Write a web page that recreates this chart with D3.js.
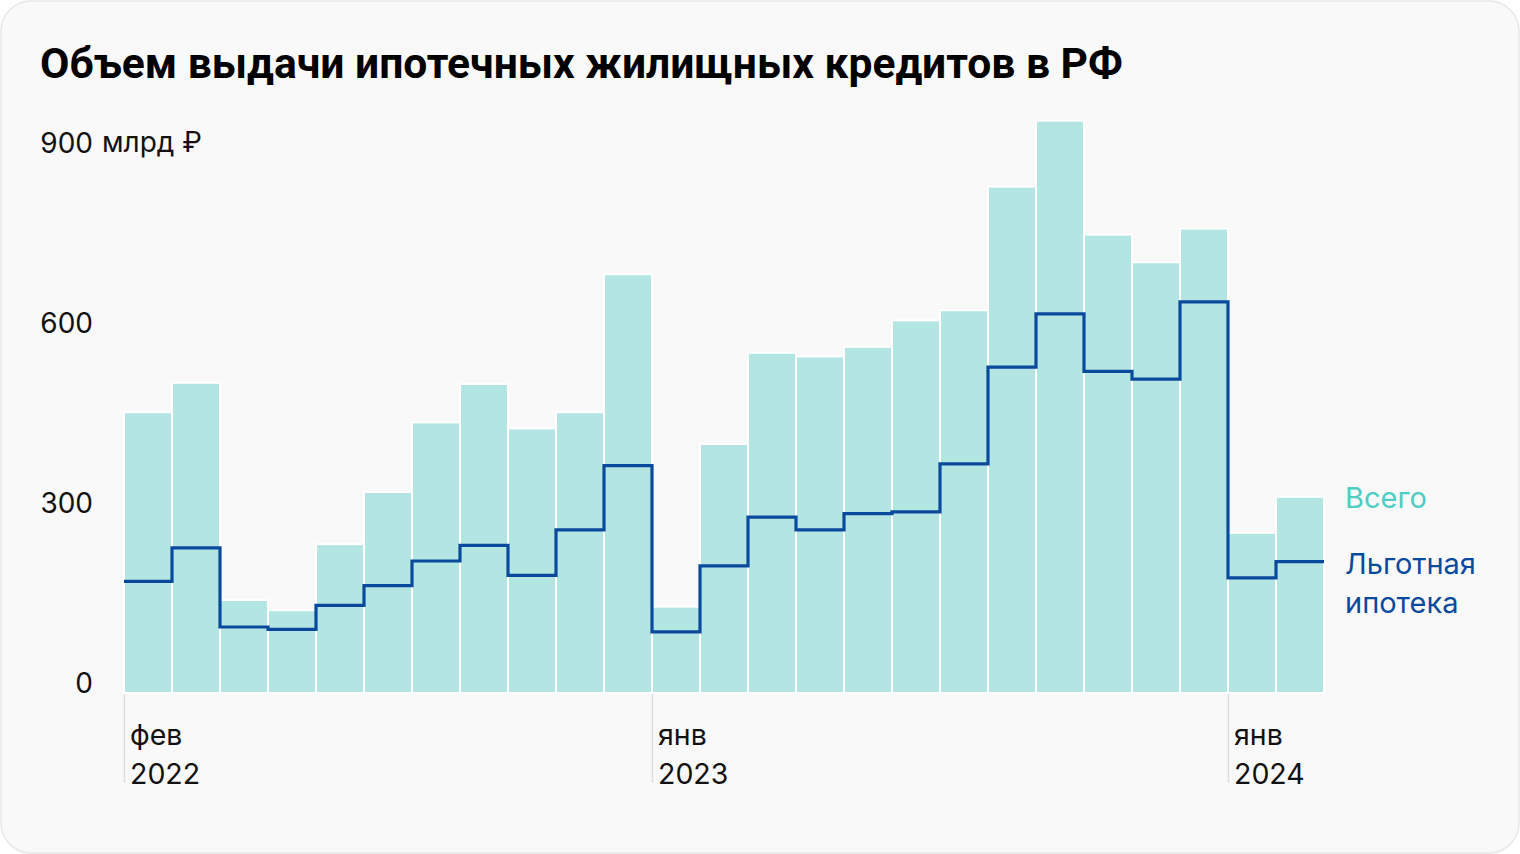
<!DOCTYPE html>
<html><head><meta charset="utf-8">
<script src="https://cdn.jsdelivr.net/npm/d3@7"></script>
<style>
html,body{margin:0;padding:0;background:#ffffff;}
svg{display:block;}
</style></head>
<body>
<svg id="chart" width="1520" height="854"></svg>
<script>
const title = "Объем выдачи ипотечных жилищных кредитов в РФ";
const months = ["2022-02","2022-03","2022-04","2022-05","2022-06","2022-07","2022-08","2022-09","2022-10","2022-11","2022-12",
  "2023-01","2023-02","2023-03","2023-04","2023-05","2023-06","2023-07","2023-08","2023-09","2023-10","2023-11","2023-12",
  "2024-01","2024-02"];
const totalValues = [468,517,155,138,248,335,451,515,441,468,698,144,415,567,561,577,621,638,844,954,764,718,774,267,327];
const subsidizedValues = [186,242,110,106,146,179,220,246,196,272,379,102,212,293,272,299,302,382,543,632,536,523,652,192,219];
const yTicks = [0,300,600,900];
const yUnit = "млрд ₽";
const xTickIndex = [0,11,23];
const xTickLabels = [["фев","2022"],["янв","2023"],["янв","2024"]];
const seriesNames = ["Всего", ["Льготная","ипотека"]];

const svg = d3.select("#chart");
const FONT = "Inter, 'Noto Sans', sans-serif";

// card
svg.append("rect").attr("x",1).attr("y",1).attr("width",1518).attr("height",852)
  .attr("rx",30).attr("fill","#f9f9f9").attr("stroke","#e7e7e7").attr("stroke-width",1.5);

// title
const t = svg.append("text").attr("x",40).attr("y",78).text(title)
  .attr("font-family","Roboto, 'Liberation Sans', sans-serif").attr("font-weight",700)
  .attr("font-size",40).attr("fill","#000");
const tw = t.node().getComputedTextLength();
t.attr("font-size", 40*1083/tw);

const x = d3.scaleLinear().domain([0, months.length]).range([124, 1324]);
const y = d3.scaleLinear().domain([0, 900]).range([693, 153]);
const bw = x(1)-x(0);

// x axis ticks
const xAxis = d3.axisBottom(x).tickValues(xTickIndex).tickSize(90).tickFormat("");
const gx = svg.append("g").attr("transform","translate(0,693)").call(xAxis);
gx.select(".domain").remove();
gx.selectAll(".tick line").attr("stroke","#dcdcdc").attr("stroke-width",1.5);
xTickIndex.forEach((idx,i)=>{
  const tx = svg.append("text").attr("font-family",FONT).attr("font-size",28.5).attr("fill","#111");
  tx.append("tspan").attr("x",x(idx)+6).attr("y",745).text(xTickLabels[i][0]);
  tx.append("tspan").attr("x",x(idx)+6).attr("y",784).text(xTickLabels[i][1]);
});

// bars
svg.append("g").selectAll("rect").data(totalValues).join("rect")
  .attr("x",(d,i)=>x(i)).attr("width",bw)
  .attr("y",d=>y(d)).attr("height",d=>y(0)-y(d))
  .attr("fill","#b3e5e2").attr("stroke","#ffffff").attr("stroke-width",2);

// step line
const stepData = subsidizedValues.map((v,i)=>[i,v]).concat([[months.length, subsidizedValues[subsidizedValues.length-1]]]);
const line = d3.line().x(d=>x(d[0])).y(d=>y(d[1])).curve(d3.curveStepAfter);
svg.append("path").datum(stepData).attr("d",line)
  .attr("fill","none").attr("stroke","#0a4a9c").attr("stroke-width",3.2).attr("stroke-linejoin","miter");

// y axis labels
const yAxis = d3.axisLeft(y).tickValues(yTicks).tickSize(0).tickPadding(0).tickFormat(d3.format("d"));
const gy = svg.append("g").attr("transform","translate(93,0)").call(yAxis);
gy.select(".domain").remove();
gy.selectAll(".tick text").attr("font-family",FONT).attr("font-size",28).attr("fill","#111")
  .attr("dy","-0.02em");
svg.append("text").attr("x",102).attr("y",y(900)).attr("dy","-0.02em").text(yUnit)
  .attr("font-family",FONT).attr("font-size",28).attr("fill","#111");

// legend
svg.append("text").attr("x",1345).attr("y",508).text(seriesNames[0])
  .attr("font-family",FONT).attr("font-size",29).attr("fill","#4fcdc2");
const lg = svg.append("text").attr("font-family",FONT).attr("font-size",29).attr("fill","#0a4a9c");
lg.append("tspan").attr("x",1345).attr("y",574).text(seriesNames[1][0]);
lg.append("tspan").attr("x",1345).attr("y",613).text(seriesNames[1][1]);
</script>
</body></html>
